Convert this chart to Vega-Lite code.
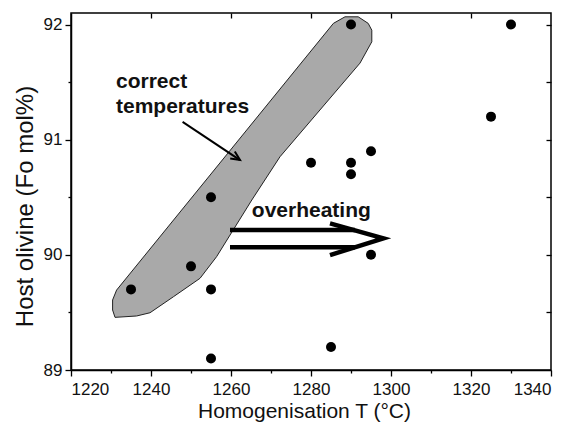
{
  "$schema": "https://vega.github.io/schema/vega-lite/v6.json",
  "width": 480,
  "height": 357,
  "autosize": {"type": "none"},
  "padding": {"left": 71, "top": 13, "right": 22, "bottom": 52},
  "background": "white",
  "config": {
    "view": {"stroke": "black", "strokeWidth": 1.5},
    "font": "Liberation Sans",
    "axis": {"labelFont": "Liberation Sans", "titleFont": "Liberation Sans", "labelColor": "#111", "titleColor": "#111", "domainColor": "black", "tickColor": "black", "grid": false, "titleFontWeight": "normal", "domainWidth": 1.5, "tickWidth": 1.3}
  },
  "datasets": {
    "pts": [
      {"T": 1235, "Fo": 89.7}, {"T": 1250, "Fo": 89.9}, {"T": 1255, "Fo": 89.7}, {"T": 1255, "Fo": 89.1},
      {"T": 1255, "Fo": 90.5}, {"T": 1290, "Fo": 92.0}, {"T": 1330, "Fo": 92.0}, {"T": 1325, "Fo": 91.2},
      {"T": 1280, "Fo": 90.8}, {"T": 1290, "Fo": 90.8}, {"T": 1290, "Fo": 90.7}, {"T": 1295, "Fo": 90.9},
      {"T": 1295, "Fo": 90.0}, {"T": 1285, "Fo": 89.2}
    ],
    "band": [
      {"i": 1, "T": 1231.4, "Fo": 89.694}, {"i": 2, "T": 1230.4, "Fo": 89.608}, {"i": 3, "T": 1230.4, "Fo": 89.521},
      {"i": 4, "T": 1231.0, "Fo": 89.457}, {"i": 5, "T": 1236.4, "Fo": 89.469}, {"i": 6, "T": 1239.75, "Fo": 89.497},
      {"i": 7, "T": 1245.6, "Fo": 89.636}, {"i": 8, "T": 1252.25, "Fo": 89.796}, {"i": 9, "T": 1256.4, "Fo": 89.984},
      {"i": 10, "T": 1265.2, "Fo": 90.476}, {"i": 11, "T": 1272.25, "Fo": 90.852}, {"i": 12, "T": 1292.25, "Fo": 91.665},
      {"i": 13, "T": 1295.2, "Fo": 91.85}, {"i": 14, "T": 1295.2, "Fo": 91.951}, {"i": 15, "T": 1294.3, "Fo": 92.01},
      {"i": 16, "T": 1291.8, "Fo": 92.067}, {"i": 17, "T": 1288.5, "Fo": 92.067}, {"i": 18, "T": 1285.6, "Fo": 92.01}
    ],
    "arrows": [
      {"g": "top", "i": 1, "T": 1259.75, "Fo": 90.215}, {"g": "top", "i": 2, "T": 1291, "Fo": 90.215},
      {"g": "bot", "i": 1, "T": 1259.75, "Fo": 90.065}, {"g": "bot", "i": 2, "T": 1291, "Fo": 90.065},
      {"g": "chev", "i": 1, "T": 1284.75, "Fo": 90.273}, {"g": "chev", "i": 2, "T": 1298.1, "Fo": 90.143}, {"g": "chev", "i": 3, "T": 1284.75, "Fo": 89.998}
    ],
    "thin": [
      {"g": "shaft", "i": 1, "T": 1247.9, "Fo": 91.155}, {"g": "shaft", "i": 2, "T": 1262.25, "Fo": 90.823},
      {"g": "head", "i": 1, "T": 1260.95, "Fo": 90.898}, {"g": "head", "i": 2, "T": 1262.25, "Fo": 90.823}, {"g": "head", "i": 3, "T": 1259.8, "Fo": 90.836}
    ],
    "labels": [
      {"T": 1231.25, "Fo": 91.445, "txt": "correct"},
      {"T": 1231.25, "Fo": 91.228, "txt": "temperatures"},
      {"T": 1265.2, "Fo": 90.331, "txt": "overheating"}
    ]
  },
  "resolve": {"axis": {"x": "independent", "y": "independent"}},
  "layer": [
    {
      "data": {"name": "band"},
      "mark": {"type": "line", "fill": "#a9a9a9", "stroke": "#222", "strokeWidth": 1, "interpolate": "linear-closed"},
      "encoding": {
        "x": {"field": "T", "type": "quantitative", "scale": {"domain": [1220, 1340], "nice": false, "zero": false},
          "axis": {"orient": "bottom", "values": [1220, 1240, 1260, 1280, 1300, 1320, 1340], "format": "d", "tickSize": 6, "labelPadding": 5, "labelFontSize": 17, "title": "Homogenisation T (°C)", "titleFontSize": 21, "titleBaseline": "alphabetic", "titleY": 47, "titleX": 233, "titleAlign": "center"}},
        "y": {"field": "Fo", "type": "quantitative", "scale": {"domain": [89, 92.1], "nice": false, "zero": false},
          "axis": {"orient": "left", "values": [89, 90, 91, 92], "format": "d", "tickSize": 6, "labelPadding": 3, "labelFontSize": 17, "title": "Host olivine (Fo mol%)", "titleFontSize": 24, "titleBaseline": "alphabetic", "titleX": -39, "titleY": 193, "titleAlign": "center", "titleAngle": -90}},
        "order": {"field": "i", "type": "quantitative"}
      }
    },
    {
      "data": {"name": "pts"},
      "mark": {"type": "point", "filled": true, "color": "black", "size": 100, "opacity": 1},
      "encoding": {
        "x": {"field": "T", "type": "quantitative", "axis": {"orient": "top", "values": [1240, 1260, 1280, 1300, 1320], "labels": false, "tickSize": -5, "domain": false, "title": null}},
        "y": {"field": "Fo", "type": "quantitative", "axis": {"orient": "right", "values": [89.5, 90, 90.5, 91, 91.5, 92], "labels": false, "tickSize": -5, "domain": false, "title": null}}
      }
    },
    {
      "data": {"name": "arrows"},
      "mark": {"type": "line", "color": "black", "strokeWidth": 4.5, "strokeJoin": "miter", "strokeCap": "butt"},
      "encoding": {
        "x": {"field": "T", "type": "quantitative", "axis": {"orient": "bottom", "values": [1230, 1250, 1270, 1290, 1310, 1330], "labels": false, "tickSize": 3, "domain": false, "title": null}},
        "y": {"field": "Fo", "type": "quantitative", "axis": {"orient": "left", "values": [89.5, 90.5, 91.5], "labels": false, "tickSize": 3, "domain": false, "title": null}},
        "detail": {"field": "g"},
        "order": {"field": "i", "type": "quantitative"}
      }
    },
    {
      "data": {"name": "thin"},
      "mark": {"type": "line", "color": "black", "strokeWidth": 2, "strokeJoin": "miter"},
      "encoding": {
        "x": {"field": "T", "type": "quantitative", "axis": null},
        "y": {"field": "Fo", "type": "quantitative", "axis": null},
        "detail": {"field": "g"},
        "order": {"field": "i", "type": "quantitative"}
      }
    },
    {
      "data": {"name": "labels"},
      "mark": {"type": "text", "align": "left", "baseline": "alphabetic", "fontWeight": "bold", "fontSize": 21, "font": "Liberation Sans", "color": "#111"},
      "encoding": {
        "x": {"field": "T", "type": "quantitative", "axis": null},
        "y": {"field": "Fo", "type": "quantitative", "axis": null},
        "text": {"field": "txt"}
      }
    }
  ]
}
